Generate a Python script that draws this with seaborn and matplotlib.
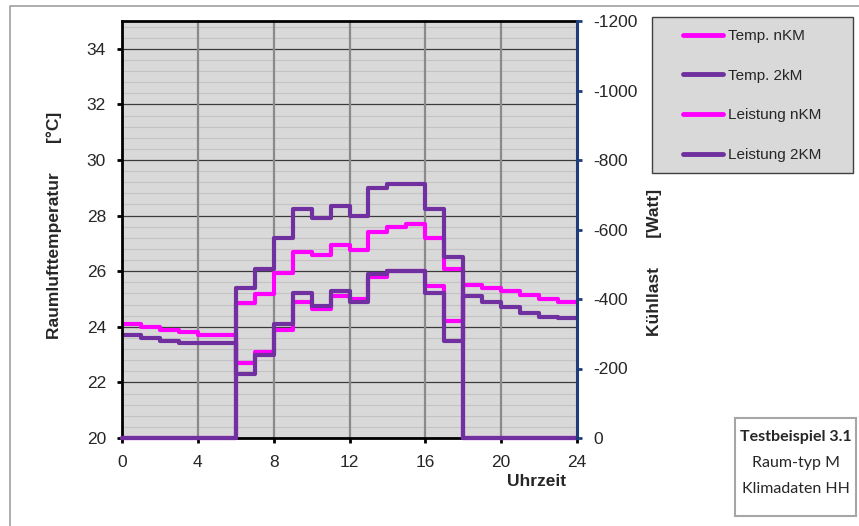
import numpy as np
import pandas as pd
import matplotlib
matplotlib.use('Agg')
import matplotlib.pyplot as plt
from matplotlib.patches import Rectangle
from matplotlib.lines import Line2D
import seaborn as sns

# Stundenwerte (Treppenkurve, Wert gilt ab der jeweiligen Stunde)
hours = list(range(25))
temp_nkm = [24.1, 24.0, 23.9, 23.8, 23.7, 23.7, 22.7, 23.1, 23.9, 24.9, 24.65, 25.1,
            25.0, 25.8, 26.0, 26.0, 25.45, 24.2, 25.5, 25.4, 25.3, 25.15, 25.0, 24.9]
temp_2km = [23.7, 23.6, 23.5, 23.4, 23.4, 23.4, 22.3, 23.0, 24.1, 25.2, 24.75, 25.3,
            24.9, 25.9, 26.0, 26.0, 25.2, 23.5, 25.1, 24.9, 24.7, 24.5, 24.35, 24.3]
leistung_nkm = [0, 0, 0, 0, 0, 0, -388, -414, -474, -536, -527, -555,
                -541, -594, -608, -616, -575, -485, 0, 0, 0, 0, 0, 0]
leistung_2km = [0, 0, 0, 0, 0, 0, -433, -485, -575, -659, -633, -668,
                -639, -720, -731, -731, -659, -522, 0, 0, 0, 0, 0, 0]

x_ticks = [0, 4, 8, 12, 16, 20, 24]
y_ticks = [20, 22, 24, 26, 28, 30, 32, 34]
y2_ticks = [0, -200, -400, -600, -800, -1000, -1200]

df = pd.DataFrame({
    'Uhrzeit': hours,
    'Temp. nKM': temp_nkm + temp_nkm[-1:],
    'Temp. 2kM': temp_2km + temp_2km[-1:],
    'Leistung nKM': leistung_nkm + leistung_nkm[-1:],
    'Leistung 2KM': leistung_2km + leistung_2km[-1:],
})

pink = '#FF00FF'
lila = '#7030A0'
navy = '#1F3D7A'

sns.set_style('white')
plt.rcParams['font.family'] = ['Liberation Sans', 'DejaVu Sans']
plt.rcParams['axes.unicode_minus'] = False

W, H = 859, 526
fig = plt.figure(figsize=(W / 100, H / 100), dpi=100)
ax1 = fig.add_axes([122 / W, 1 - 438 / H, (577 - 122) / W, (438 - 21) / H])
ax1.set_facecolor('#D9D9D9')

sns.lineplot(data=df, x='Uhrzeit', y='Temp. nKM', ax=ax1, color=pink, lw=3,
             drawstyle='steps-post')
sns.lineplot(data=df, x='Uhrzeit', y='Temp. 2kM', ax=ax1, color=lila, lw=3,
             drawstyle='steps-post')

ax1.set_xlim(0, 24)
ax1.set_ylim(20, 35)
ax1.set_xticks(x_ticks)
ax1.set_yticks(y_ticks)
ax1.set_yticks(np.arange(20, 35.01, 0.4), minor=True)
ax1.grid(which='minor', axis='y', color='#C3C3C3', lw=0.8)
ax1.grid(which='major', axis='y', color='#3A3A3A', lw=0.9)
# senkrechte Gitterlinien über den feinen Linien
for xt in x_ticks[1:-1]:
    ax1.axvline(xt, color='#8A8A8A', lw=1.6, zorder=0.8)
ax1.set_axisbelow(True)
ax1.tick_params(which='minor', length=0)
ax1.tick_params(which='major', direction='out', length=3.5, width=2, color='black',
                labelsize=12.5, bottom=True, left=True)
ax1.tick_params(axis='x', pad=9)
ax1.tick_params(axis='y', pad=8)
ax1.set_xlabel('')
ax1.set_ylabel('')
for side in ['left', 'top', 'bottom']:
    ax1.spines[side].set_color('black')
    ax1.spines[side].set_linewidth(2)
ax1.spines['right'].set_visible(False)

# Kühllast auf der rechten Achse
ax2 = ax1.twinx()
ax2.patch.set_visible(False)
sns.lineplot(data=df, x='Uhrzeit', y='Leistung nKM', ax=ax2, color=pink, lw=3,
             drawstyle='steps-post', clip_on=False)
sns.lineplot(data=df, x='Uhrzeit', y='Leistung 2KM', ax=ax2, color=lila, lw=3,
             drawstyle='steps-post', clip_on=False)
ax2.set_ylim(0, -1200)
ax2.set_yticks(y2_ticks)
ax2.set_ylabel('')
ax2.grid(False)
for side in ['left', 'top', 'bottom']:
    ax2.spines[side].set_visible(False)
ax2.spines['right'].set_color(navy)
ax2.spines['right'].set_linewidth(2.2)
ax2.tick_params(axis='y', direction='out', length=3.5, width=2, color=navy,
                labelsize=12.5, pad=8, right=True)

# Achsentitel
fig.text(54 / W, 1 - 225 / H, 'Raumlufttemperatur      [°C]', rotation=90,
         ha='center', va='center', fontsize=12.5, fontweight='bold')
fig.text(655 / W, 1 - 262 / H, 'Kühllast      [Watt]', rotation=90,
         ha='center', va='center', fontsize=12.5, fontweight='bold')
fig.text(537 / W, 1 - 482 / H, 'Uhrzeit', ha='center', va='center',
         fontsize=12.5, fontweight='bold')

# Legende
fig.patches.append(Rectangle((652 / W, 1 - 173 / H), 201 / W, 156 / H,
                             transform=fig.transFigure, facecolor='#D9D9D9',
                             edgecolor='#404040', lw=1))
handles = [Line2D([], [], color=pink, lw=3.5), Line2D([], [], color=lila, lw=3.5),
           Line2D([], [], color=pink, lw=3.5), Line2D([], [], color=lila, lw=3.5)]
fig.legend(handles, ['Temp. nKM', 'Temp. 2kM', 'Leistung nKM', 'Leistung 2KM'],
           loc='upper left', bbox_to_anchor=(683 / W, 1 - 29 / H), frameon=False,
           fontsize=11, borderpad=0, borderaxespad=0, handlelength=2.6,
           handletextpad=0.35, labelspacing=1.68)

# Infobox
fig.patches.append(Rectangle((735 / W, 1 - 516 / H), 121 / W, 98 / H,
                             transform=fig.transFigure, facecolor='white',
                             edgecolor='#A6A6A6', lw=1.5))
fig.text(796 / W, 1 - 437 / H, 'Testbeispiel 3.1', ha='center', va='center',
         fontsize=11.5, fontweight='bold', family=['Lato', 'DejaVu Sans'])
fig.text(796 / W, 1 - 463 / H, 'Raum-typ M', ha='center', va='center',
         fontsize=11.5, family=['Lato', 'DejaVu Sans'])
fig.text(796 / W, 1 - 489 / H, 'Klimadaten HH', ha='center', va='center',
         fontsize=11.5, family=['Lato', 'DejaVu Sans'])

# Rahmen des Diagrammbereichs
fig.add_artist(Line2D([10 / W, 10 / W, 1], [0, 1 - 6 / H, 1 - 6 / H],
                      transform=fig.transFigure, color='#A0A0A0', lw=1.2))

fig.savefig('out.png', dpi=100)
